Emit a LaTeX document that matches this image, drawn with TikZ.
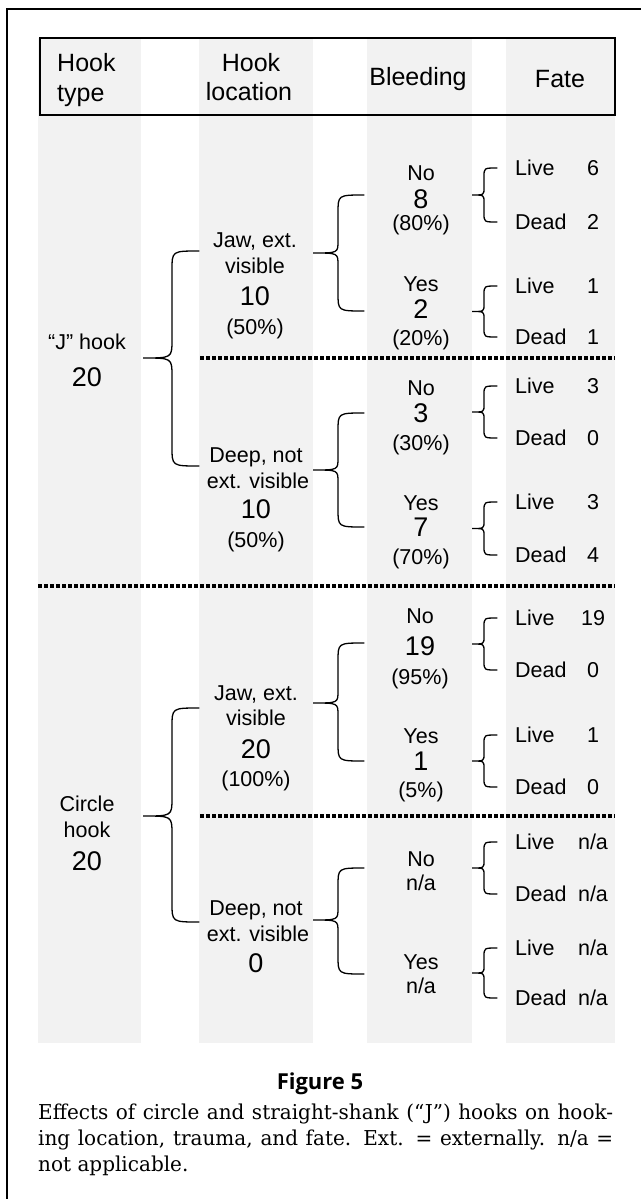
\documentclass[tikz,border=0pt]{standalone}
\usepackage{fontspec}
\setmainfont{Liberation Sans}
\newfontfamily\capfont{DejaVu Serif}
\newfontfamily\figfont{Open Sans}
\definecolor{colbg}{RGB}{242,242,242}
\newsavebox\capboxA
\newsavebox\capboxB
\newlength\capwA
\newlength\capwB
\newcommand\NA{n/a}
\newcommand\capsize{\fontsize{20.5pt}{26pt}\selectfont}
% brace: xe, xv, xt, ytop, ymid, ybot, rEnd, rTip
\newcommand\mybrace[8]{%
  \draw[brace] (#1,#4) .. controls (#2,#4) .. (#2,#4+#7) -- (#2,#5-#8)
    .. controls (#2,#5) .. (#3,#5) .. controls (#2,#5) .. (#2,#5+#8)
    -- (#2,#6-#7) .. controls (#2,#6) .. (#1,#6);}
\tikzset{
  lbl/.style={font=\fontsize{21.5}{24}\selectfont, inner sep=0pt, text height=15.4pt, text depth=0pt},
  num/.style={font=\fontsize{27}{30}\selectfont, inner sep=0pt, text height=19.3pt, text depth=0pt},
  hdr/.style={font=\fontsize{25}{28}\selectfont, inner sep=0pt, text height=17.9pt, text depth=0pt},
  brace/.style={line width=1.3pt, line cap=round},
  sepline/.style={line width=3.4pt, dash pattern=on 3.8pt off 2.2pt},
  colfill/.style={fill=colbg, draw=none},
  capline/.style={inner sep=0pt, anchor=base west},
}
\begin{document}
\sbox\capboxA{\capfont\capsize Effects of circle and straight-shank (“J”) hooks on hook-}%
\sbox\capboxB{\capfont\capsize ing location, trauma, and fate. Ext. = externally. n/a =}%
\setlength\capwA{\wd\capboxA}%
\setlength\capwB{\wd\capboxB}%
\pgfmathsetmacro\capsx{min(1,566/max(\capwA,\capwB))}%
\pgfmathsetmacro\capwid{575/\capsx}%
\begin{tikzpicture}[x=1pt,y=-1pt]
\useasboundingbox (0,0) rectangle (640,1199);
% outer frame (right and bottom edges lie outside the picture)
\draw[line width=1.6pt] (6.7,1230) -- (6.7,9) -- (680,9);
% grey columns
\fill[colfill] (38,38) rectangle (141,1043);
\fill[colfill] (199,38) rectangle (313,1043);
\fill[colfill] (367,38) rectangle (472,1043);
\fill[colfill] (506,38) rectangle (615,1043);
% header box
\draw[line width=1.3pt] (40,38) rectangle (615,115);
\node[hdr, anchor=west] (hA1) at (57,63) {Hook};
\node[hdr, anchor=west] (hA2) at (57,93) {type};
\node[hdr] (hB1) at (251,63) {Hook};
\node[hdr] (hB2) at (249,92) {location};
\node[hdr] (hC) at (418,77) {Bleeding};
\node[hdr] (hD) at (560,79) {Fate};
% separators
\draw[sepline] (200,358) -- (615,358);
\draw[sepline] (38,586) -- (615,586);
\draw[sepline] (200,816) -- (615,816);
% hook type column
\node[lbl] (jh) at (87,342) {“J” hook};
\node[num] (jhn) at (87,377) {20};
\node[lbl] (ch1) at (87,804) {Circle};
\node[lbl] (ch2) at (87,830) {hook};
\node[num] (chn) at (87,861) {20};
% hook location column
\node[lbl] (jj1) at (255,240) {Jaw, ext.};
\node[lbl] (jj2) at (255,266) {visible};
\node[num] (jjn) at (255,296) {10};
\node[lbl] (jjp) at (255,327) {(50\%)};
\node[lbl] (jd1) at (256,455) {Deep, not};
\node[lbl] (jd2) at (258,481) {ext. visible};
\node[num] (jdn) at (256,509) {10};
\node[lbl] (jdp) at (256,540) {(50\%)};
\node[lbl] (cj1) at (256,693) {Jaw, ext.};
\node[lbl] (cj2) at (256,718) {visible};
\node[num] (cjn) at (256,749) {20};
\node[lbl] (cjp) at (256,779) {(100\%)};
\node[lbl] (cd1) at (256,908) {Deep, not};
\node[lbl] (cd2) at (258,934) {ext. visible};
\node[num] (cdn) at (256,963) {0};
% bleeding column
\node[lbl] (b1a) at (421,173) {No};
\node[num] (b1n) at (421,199) {8};
\node[lbl] (b1p) at (421,223) {(80\%)};
\node[lbl] (b2a) at (421,284) {Yes};
\node[num] (b2n) at (421,309) {2};
\node[lbl] (b2p) at (421,338) {(20\%)};
\node[lbl] (b3a) at (421,388) {No};
\node[num] (b3n) at (421,413) {3};
\node[lbl] (b3p) at (421,443) {(30\%)};
\node[lbl] (b4a) at (421,503) {Yes};
\node[num] (b4n) at (421,527) {7};
\node[lbl] (b4p) at (421,557) {(70\%)};
\node[lbl] (b5a) at (420,616) {No};
\node[num] (b5n) at (420,646) {19};
\node[lbl] (b5p) at (420,677) {(95\%)};
\node[lbl] (b6a) at (421,736) {Yes};
\node[num] (b6n) at (421,761) {1};
\node[lbl] (b6p) at (421,790) {(5\%)};
\node[lbl] (b7a) at (421,859) {No};
\node[lbl] (b7n) at (421,883) {n/a};
\node[lbl] (b8a) at (421,962) {Yes};
\node[lbl] (b8n) at (421,986) {n/a};
% fate column
\foreach \nm/\yl/\yd/\vl/\vd in {f1/168/222/6/2, f2/286/337/1/1, f3/386/438/3/0, f4/502/555/3/4,
    f5/618/670/19/0, f6/735/787/1/0, f7/842/894/\NA/\NA, f8/948/998/\NA/\NA}{
  \pgfmathsetmacro\ymid{(\yl+\yd)/2}
  \node[lbl, anchor=west] (\nm L) at (515,\yl) {Live};
  \node[lbl] (\nm Lv) at (593,\yl) {\vl};
  \node[lbl, anchor=west] (\nm D) at (515,\yd) {Dead};
  \node[lbl] (\nm Dv) at (593,\yd) {\vd};
  \mybrace{497}{484}{472}{\yl}{\ymid}{\yd}{8.5}{7}
}
% bleeding braces
\mybrace{364}{338}{313}{195}{253}{311}{18}{12}
\mybrace{364}{338}{313}{413}{470}{527}{18}{12}
\mybrace{364}{338}{313}{643}{703}{761}{18}{12}
\mybrace{364}{338}{313}{868}{920}{974}{18}{12}
% hook type braces
\mybrace{199}{172}{143}{251}{358}{466}{19}{18}
\mybrace{199}{172}{143}{708}{816}{922}{19}{18}
% caption
\node[inner sep=0pt, font=\figfont\bfseries\fontsize{22}{26}\selectfont, text height=15.6pt, text depth=0pt] (fig) at (320,1082) {Figure 5};
\node[capline] (cap1) at (38,1119) {\scalebox{\capsx}[1]{\capfont\capsize\makebox[\capwid pt][s]{Effects of circle and straight-shank (“J”) hooks on hook-}}};
\node[capline] (cap2) at (38,1145) {\scalebox{\capsx}[1]{\capfont\capsize\makebox[\capwid pt][s]{ing location, trauma, and fate. Ext. = externally. n/a =}}};
\node[capline] (cap3) at (38,1171) {\scalebox{\capsx}[1]{\capfont\capsize not applicable.}};
\end{tikzpicture}
\end{document}
